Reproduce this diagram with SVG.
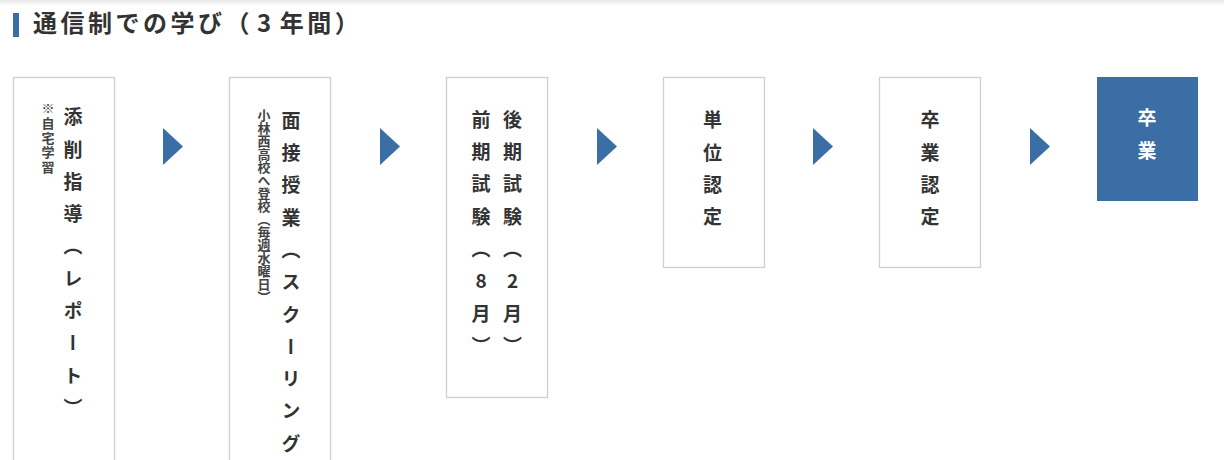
<svg xmlns="http://www.w3.org/2000/svg" width="1224" height="460" viewBox="0 0 1224 460">
<defs>
<style>
.box{fill:#fff;stroke:#cfcfcf;stroke-width:1.3}
.fin{fill:#3a6ea5}
.arr{fill:#3a6ea5}
.v{font-family:"Noto Sans CJK JP","Noto Sans CJK SC",sans-serif;writing-mode:vertical-rl;text-orientation:mixed;font-weight:bold;font-size:19px;letter-spacing:13.3px;fill:#333}
.up{text-orientation:upright}
.note{font-family:"Noto Sans CJK JP","Noto Sans CJK SC",sans-serif;writing-mode:vertical-rl;text-orientation:mixed;font-weight:bold;font-size:13px;fill:#444}
.title{font-family:"Noto Sans CJK JP","Noto Sans CJK SC",sans-serif;font-weight:bold;font-size:24px;letter-spacing:3.5px;fill:#333}
</style>
<linearGradient id="topg" x1="0" y1="0" x2="0" y2="1">
<stop offset="0" stop-color="#e8e8e8"/>
<stop offset="1" stop-color="#ffffff"/>
</linearGradient>
</defs>
<rect x="0" y="0" width="1224" height="460" fill="#fff"/>
<rect x="0" y="0" width="1224" height="6" fill="url(#topg)"/>
<g id="title">
<rect x="13" y="13" width="6" height="24" fill="#3a6ea5"/>
<text class="title" x="33" y="32">通信制での学び（<tspan dx="4">3</tspan><tspan dx="5">年間）</tspan></text>
</g>
<g id="node-tensaku">
<rect class="box" x="13.5" y="77.5" width="101" height="390"/>
<text class="v" x="73" y="107.5">添削指導（レポート）</text>
<text class="note" x="48" y="102" style="letter-spacing:1.6px">※自宅学習</text>
</g>
<g id="node-mensetsu">
<rect class="box" x="229.5" y="77.5" width="101" height="390"/>
<text class="v" x="291" y="111">面接授業（スクーリン</text>
<text class="v" x="291" y="434" style="letter-spacing:0">グ</text>
<text class="note" x="264" y="109">小林西高校へ登校（毎週水曜日）</text>
</g>
<g id="node-shiken">
<rect class="box" x="446.5" y="77.5" width="101" height="320"/>
<text class="v up" x="512.5" y="110">後期試験（2月）</text>
<text class="v up" x="481" y="110">前期試験（8月）</text>
</g>
<g id="node-tani">
<rect class="box" x="663.5" y="77.5" width="101" height="190"/>
<text class="v" x="712.5" y="110.5">単位認定</text>
</g>
<g id="node-sotsugyou-nintei">
<rect class="box" x="879.5" y="77.5" width="101" height="190"/>
<text class="v" x="930" y="110.5">卒業認定</text>
</g>
<g id="node-sotsugyou">
<rect class="fin" x="1097" y="77" width="101" height="124"/>
<text class="v" x="1147" y="108.5" style="fill:#fff">卒業</text>
</g>
<g id="connectors">
<polygon class="arr" points="163,128 183,146.5 163,165"/>
<polygon class="arr" points="380,128 400,146.5 380,165"/>
<polygon class="arr" points="597,128 617,146.5 597,165"/>
<polygon class="arr" points="813,128 833,146.5 813,165"/>
<polygon class="arr" points="1030,128 1050,146.5 1030,165"/>
</g>
</svg>
